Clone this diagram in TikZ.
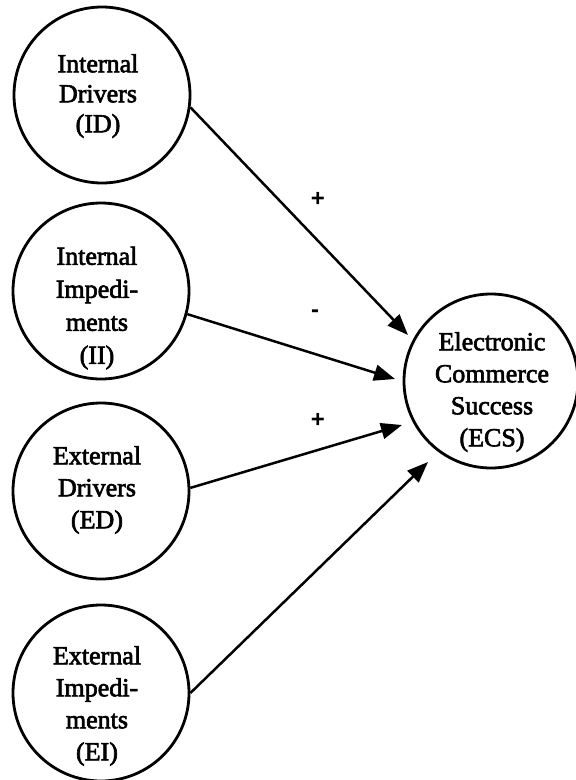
\documentclass[tikz,border=0pt]{standalone}
\usepackage{fontspec}
\setmainfont{Liberation Serif}
\newfontfamily\scanfont{Liberation Serif}[FakeBold=2.5]
\newfontfamily\signfont{Liberation Sans}
\usetikzlibrary{arrows.meta}
\begin{document}
\begin{tikzpicture}[x=1pt,y=-1pt,
  var/.style={draw, circle, line width=2.8pt, minimum size=176pt, inner sep=0pt},
  txt/.style={align=center, inner sep=0pt, font=\fontsize{26}{32}\selectfont\scanfont},
  conn/.style={line width=2.5pt, -{Triangle[length=21pt,width=16pt]}},
  sign/.style={font=\fontsize{24}{30}\selectfont\signfont\bfseries, inner sep=0pt}]
\useasboundingbox (0,0) rectangle (576,780);
\node[var] (ID) at (102,95) {};
\node[var] (II) at (101,291) {};
\node[var] (ED) at (101,491) {};
\node[var] (EI) at (101,693) {};
\node[var, minimum size=174pt] (ECS) at (491,381) {};
\node[txt, font=\fontsize{26}{30}\selectfont\scanfont] (IDt) at (98,96) {Internal\\Drivers\\(ID)};
\node[txt, font=\fontsize{26}{33}\selectfont\scanfont] (IIt) at (97,308) {Internal\\Impedi-\\ments\\(II)};
\node[txt] (EDt) at (97,490) {External\\Drivers\\(ED)};
\node[txt] (EIt) at (97,706) {External\\Impedi-\\ments\\(EI)};
\node[txt] (ECSt) at (492,392) {Electronic\\Commerce\\Success\\(ECS)};
\coordinate (t1) at (408,335);
\coordinate (t2) at (395,379);
\coordinate (t3) at (402,425);
\coordinate (t4) at (428,462);
\draw[conn] (ID.-8) -- (t1);
\draw[conn] (II.-15) -- (t2);
\draw[conn] (ED.2) -- (t3);
\draw[conn] (EI.0) -- (t4);
\node[sign] (p1) at (318,199) {+};
\node[sign] (m1) at (315,314) {-};
\node[sign] (p2) at (318,420) {+};
\end{tikzpicture}
\end{document}
